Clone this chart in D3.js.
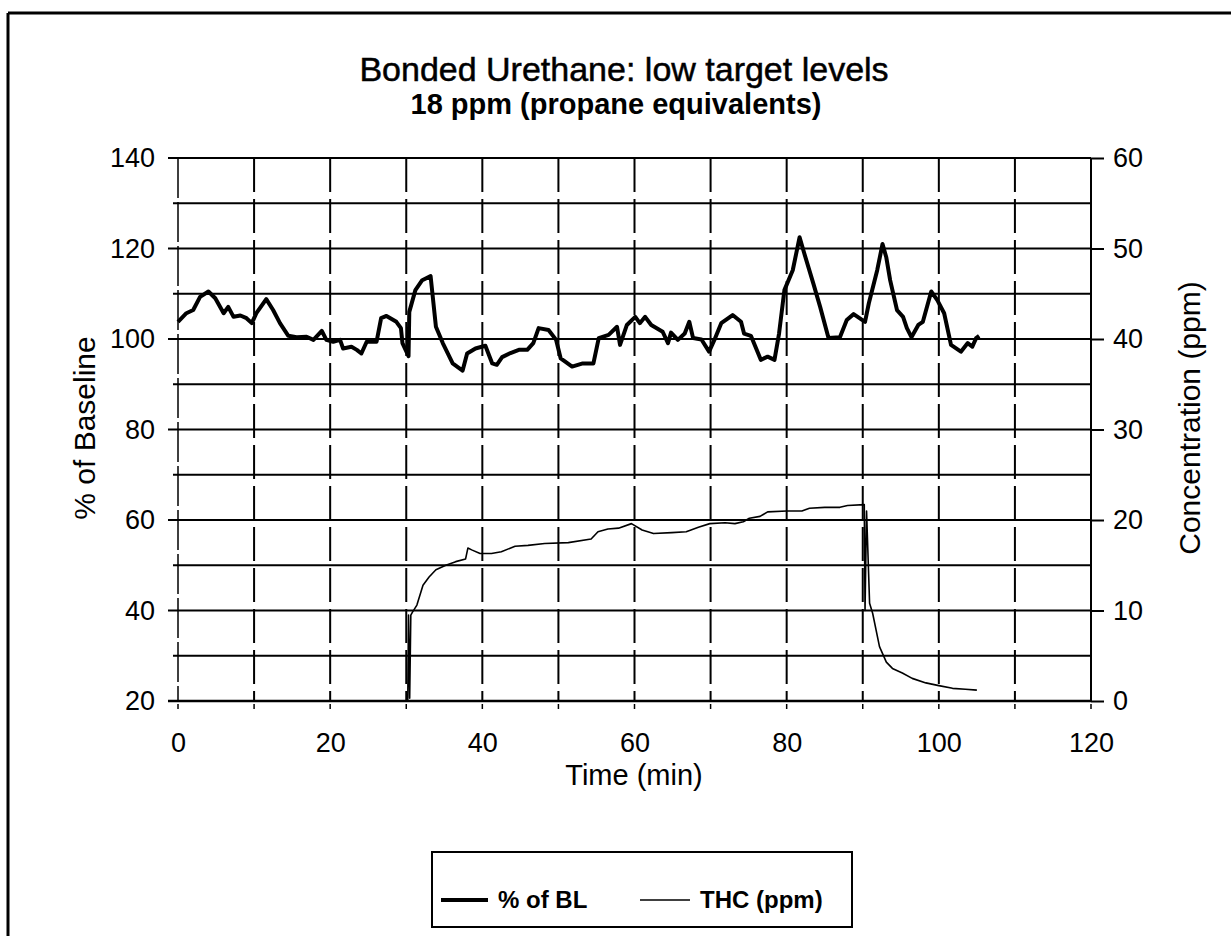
<!DOCTYPE html>
<html>
<head>
<meta charset="utf-8">
<script src="https://cdn.jsdelivr.net/npm/d3@7"></script>
<style>
  html, body { margin: 0; padding: 0; background: #fff; }
  svg { display: block; }
  text { font-family: "Liberation Sans", Arial, Helvetica, sans-serif; fill: #000; }
</style>
</head>
<body>
<svg id="chart" width="1231" height="936"></svg>
<script>
// Time axis (minutes)
const timeTicks = [0, 20, 40, 60, 80, 100, 120];
const timeGrid = [10, 20, 30, 40, 50, 60, 70, 80, 90, 100, 110];
// Left axis: % of baseline
const pctTicks = [20, 40, 60, 80, 100, 120, 140];
const pctGrid = [20, 30, 40, 50, 60, 70, 80, 90, 100, 110, 120, 130, 140];
// Right axis: concentration (ppm)
const ppmTicks = [0, 10, 20, 30, 40, 50, 60];

// % of BL series
const blTime = [0, 1.1, 2.0, 2.9, 4.0, 4.9, 6.0, 6.6, 7.3, 8.2, 9.0, 9.7, 10.3, 11.6, 12.5, 13.4, 14.5, 15.6,
  16.9, 17.8, 18.9, 19.5, 20.4, 21.3, 21.7, 22.8, 23.5, 24.1, 24.8, 26.1, 26.7, 27.4, 28.7, 29.3, 29.5, 30.3,
  30.4, 31.2, 32.1, 33.2, 33.9, 34.8, 36.1, 37.4, 38.0, 39.1, 40.4, 41.3, 41.9, 42.6, 43.7, 44.8, 45.9, 46.7,
  47.4, 48.7, 49.7, 50.3, 51.8, 53.2, 54.6, 55.3, 56.6, 57.7, 58.1, 59.0, 60.1, 60.7, 61.4, 62.2, 63.7, 64.4,
  64.8, 65.7, 66.6, 67.2, 67.7, 68.8, 69.8, 70.5, 71.4, 72.9, 74.0, 74.4, 75.3, 76.6, 77.5, 78.4, 79.0, 79.7,
  80.8, 81.7, 82.3, 83.5, 84.4, 85.5, 87.0, 87.9, 88.8, 90.3, 90.8, 91.9, 92.6, 93.1, 93.6, 94.5, 95.3, 95.8,
  96.4, 97.3, 97.9, 99.0, 99.8, 100.7, 101.6, 102.9, 103.8, 104.4, 104.9, 105.3];
const blPct = [103.8, 105.7, 106.4, 109.3, 110.5, 109.0, 105.7, 107.1, 104.9, 105.2, 104.6, 103.5, 105.7, 108.8, 106.4, 103.5, 100.7, 100.4,
  100.5, 99.8, 101.8, 99.8, 99.4, 99.8, 97.9, 98.3, 97.6, 96.8, 99.4, 99.4, 104.6, 105.1, 103.8, 102.4, 99.1, 96.2,
  106.0, 110.8, 113.0, 113.9, 102.7, 99.1, 94.6, 93.0, 96.8, 97.9, 98.5, 94.6, 94.3, 96.0, 96.9, 97.6, 97.6, 99.1,
  102.4, 102.0, 99.8, 95.7, 93.9, 94.6, 94.6, 100.2, 100.9, 102.7, 98.7, 103.1, 104.9, 103.5, 104.9, 103.1, 101.6, 99.1,
  101.4, 99.8, 101.2, 103.8, 100.2, 99.9, 97.2, 99.8, 103.5, 105.3, 103.8, 101.2, 100.7, 95.4, 96.1, 95.4, 101.2, 110.8,
  115.2, 122.5, 119.0, 112.3, 107.1, 100.2, 100.4, 104.2, 105.5, 103.8, 107.9, 115.2, 121.0, 118.0, 113.0, 106.4, 104.9, 102.4,
  100.4, 103.1, 103.8, 110.5, 108.6, 105.7, 98.7, 97.2, 99.1, 98.3, 100.2, 100.7];

// THC series (ppm)
const thcTime = [30.2, 30.3, 30.45, 30.6, 30.8, 31.4, 32.2, 33.0, 33.9, 35.2, 36.5, 37.8, 38.1, 38.6, 39.7, 41.2,
  42.5, 44.3, 46.0, 48.2, 51.3, 54.3, 55.2, 56.5, 57.9, 59.6, 61.0, 62.5, 64.9, 66.8, 68.4, 69.9, 71.9, 73.2,
  74.3, 75.1, 76.5, 77.5, 80.0, 82.0, 83.0, 85.0, 87.0, 88.0, 90.2, 90.3, 90.5, 90.9, 91.3, 92.2, 93.1, 93.9,
  95.2, 96.5, 98.3, 100.0, 101.8, 103.5, 105.0];
const thcPpm = [0, 9.5, 0.3, 9.5, 9.8, 10.6, 12.8, 13.7, 14.5, 15.0, 15.4, 15.7, 16.9, 16.7, 16.3, 16.3,
  16.5, 17.1, 17.2, 17.4, 17.5, 17.9, 18.7, 19.0, 19.1, 19.6, 18.9, 18.5, 18.6, 18.7, 19.2, 19.6, 19.7, 19.6,
  19.8, 20.2, 20.4, 20.9, 21.0, 21.0, 21.3, 21.4, 21.4, 21.6, 21.7, 10.0, 21.0, 10.8, 9.7, 6.0, 4.3, 3.6,
  3.1, 2.5, 2.0, 1.7, 1.4, 1.3, 1.2];

const legendLabels = ["% of BL", "THC (ppm)"];

const svg = d3.select("#chart");

// plot box
const L = 178, R = 1091, T = 158, B = 701;
const x = d3.scaleLinear().domain([0, 120]).range([L, R]);
const yL = d3.scaleLinear().domain([20, 140]).range([B, T]);
const yR = d3.scaleLinear().domain([0, 60]).range([B, T]);

// page frame
svg.append("line").attr("x1", 8).attr("x2", 1231).attr("y1", 13).attr("y2", 13)
  .attr("stroke", "#000").attr("stroke-width", 3);
svg.append("line").attr("x1", 8).attr("x2", 8).attr("y1", 13).attr("y2", 936)
  .attr("stroke", "#000").attr("stroke-width", 3);

// titles
svg.append("text").attr("x", 624).attr("y", 81).attr("text-anchor", "middle")
  .style("font-size", "34px").style("stroke", "#000").style("stroke-width", 0.5)
  .text("Bonded Urethane: low target levels");
svg.append("text").attr("x", 616).attr("y", 114).attr("text-anchor", "middle")
  .style("font-size", "29px").style("font-weight", "bold").text("18 ppm (propane equivalents)");

// vertical dashed grid
svg.append("g").selectAll("line").data(timeGrid).join("line")
  .attr("x1", d => x(d)).attr("x2", d => x(d)).attr("y1", T).attr("y2", B)
  .attr("stroke", "#000").attr("stroke-width", 2).attr("stroke-dasharray", "34,7");
// left edge of plot
svg.append("line").attr("x1", L).attr("x2", L).attr("y1", T).attr("y2", B)
  .attr("stroke", "#000").attr("stroke-width", 1.5).attr("stroke-dasharray", "40,4");

// horizontal grid (solid)
svg.append("g").selectAll("line").data(pctGrid).join("line")
  .attr("x1", d => pctTicks.includes(d) ? L - 10 : L - 5).attr("x2", R)
  .attr("y1", d => yL(d)).attr("y2", d => yL(d))
  .attr("stroke", "#000").attr("stroke-width", 2);

// left axis labels
const axL = svg.append("g").attr("transform", `translate(${L - 10},0)`)
  .call(d3.axisLeft(yL).tickValues(pctTicks).tickSize(0).tickPadding(13).tickFormat(d3.format("d")));
axL.select(".domain").remove();
axL.selectAll("text").style("font-size", "27px").style("font-family", "Liberation Sans, Arial, sans-serif");

// right axis
svg.append("line").attr("x1", R).attr("x2", R).attr("y1", T).attr("y2", B)
  .attr("stroke", "#000").attr("stroke-width", 2);
const axR = svg.append("g").attr("transform", `translate(${R},0)`)
  .call(d3.axisRight(yR).tickValues(ppmTicks).tickSize(13).tickPadding(9).tickFormat(d3.format("d")));
axR.select(".domain").remove();
axR.selectAll("line").attr("stroke-width", 2);
axR.selectAll("text").style("font-size", "27px").style("font-family", "Liberation Sans, Arial, sans-serif");

// bottom axis
svg.append("line").attr("x1", L - 10).attr("x2", R).attr("y1", B).attr("y2", B)
  .attr("stroke", "#000").attr("stroke-width", 2.5);
svg.append("g").selectAll("line").data([0].concat(timeGrid, [120])).join("line")
  .attr("x1", d => x(d)).attr("x2", d => x(d)).attr("y1", B + 3).attr("y2", B + 8)
  .attr("stroke", "#000").attr("stroke-width", 1.5);
const axB = svg.append("g").attr("transform", `translate(0,${B})`)
  .call(d3.axisBottom(x).tickValues(timeTicks).tickSize(0).tickPadding(32).tickFormat(d3.format("d")));
axB.select(".domain").remove();
axB.selectAll("text").style("font-size", "27px").style("font-family", "Liberation Sans, Arial, sans-serif");

// axis titles
svg.append("text").attr("x", 634).attr("y", 785).attr("text-anchor", "middle")
  .style("font-size", "29px").text("Time (min)");
svg.append("text").attr("transform", "translate(95,428) rotate(-90)").attr("text-anchor", "middle")
  .style("font-size", "30px").text("% of Baseline");
svg.append("text").attr("transform", "translate(1200,418) rotate(-90)").attr("text-anchor", "middle")
  .style("font-size", "30px").text("Concentration (ppm)");

// series
const blData = blTime.map((t, i) => [t, blPct[i]]);
const thcData = thcTime.map((t, i) => [t, thcPpm[i]]);

svg.append("path").datum(thcData)
  .attr("fill", "none").attr("stroke", "#000").attr("stroke-width", 1.6).attr("stroke-linejoin", "round")
  .attr("d", d3.line().x(d => x(d[0])).y(d => yR(d[1])));

svg.append("path").datum(blData)
  .attr("fill", "none").attr("stroke", "#000").attr("stroke-width", 4).attr("stroke-linejoin", "round")
  .attr("d", d3.line().x(d => x(d[0])).y(d => yL(d[1])));

// legend
const lg = svg.append("g");
lg.append("rect").attr("x", 432).attr("y", 852).attr("width", 420).attr("height", 75)
  .attr("fill", "none").attr("stroke", "#000").attr("stroke-width", 2);
const items = [
  { x1: 441, x2: 488, w: 4, tx: 498, label: legendLabels[0] },
  { x1: 640, x2: 690, w: 1.6, tx: 700, label: legendLabels[1] }
];
items.forEach(it => {
  lg.append("line").attr("x1", it.x1).attr("x2", it.x2).attr("y1", 900).attr("y2", 900)
    .attr("stroke", "#000").attr("stroke-width", it.w);
  lg.append("text").attr("x", it.tx).attr("y", 908).style("font-size", "24px").style("font-weight", "bold")
    .text(it.label);
});
</script>
</body>
</html>
